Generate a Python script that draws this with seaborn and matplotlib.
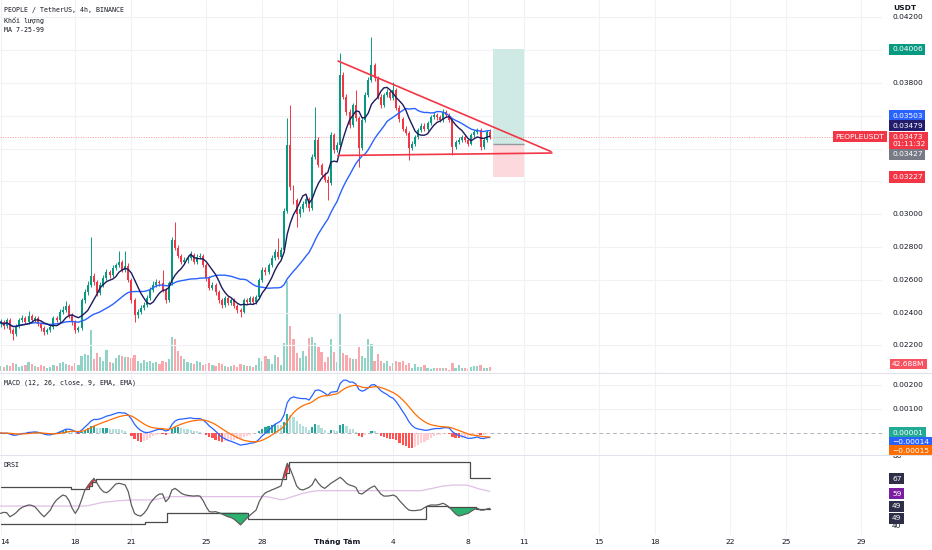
"""PEOPLE / TetherUS 4h chart (BINANCE) with volume, MA, MACD and DRSI panes."""

import numpy as np
import pandas as pd
import matplotlib
matplotlib.use("Agg")
import matplotlib.pyplot as plt
import matplotlib.transforms as mtransforms
from matplotlib.patches import Rectangle
from matplotlib.lines import Line2D
import seaborn as sns

# ---------------------------------------------------------------------------
# data: 4h candles, bar 0 = 14 Jul 00:00
# ---------------------------------------------------------------------------
first_open = 0.02330
close = [
    0.02342, 0.02318, 0.02354, 0.02293, 0.02269, 0.02318, 0.02354, 0.02366, 0.02342, 0.02379,
    0.02354, 0.02366, 0.02330, 0.02306, 0.02281, 0.02293, 0.02312, 0.02366, 0.02354, 0.02403,
    0.02415, 0.02440, 0.02385, 0.02342, 0.02293, 0.02306, 0.02476, 0.02525, 0.02568, 0.02623,
    0.02586, 0.02519, 0.02568, 0.02610, 0.02647, 0.02629, 0.02672, 0.02690, 0.02708, 0.02659,
    0.02684, 0.02598, 0.02476, 0.02385, 0.02403, 0.02427, 0.02446, 0.02488, 0.02537, 0.02568,
    0.02586, 0.02580, 0.02537, 0.02476, 0.02580, 0.02842, 0.02794, 0.02745, 0.02708, 0.02720,
    0.02733, 0.02751, 0.02708, 0.02739, 0.02745, 0.02690, 0.02610, 0.02550, 0.02568, 0.02525,
    0.02476, 0.02446, 0.02488, 0.02458, 0.02476, 0.02440, 0.02415, 0.02403, 0.02476, 0.02464,
    0.02488, 0.02464, 0.02495, 0.02598, 0.02659, 0.02647, 0.02690, 0.02733, 0.02770, 0.02740,
    0.02781, 0.03020, 0.03422, 0.03166, 0.03086, 0.03000, 0.03030, 0.03060, 0.03090, 0.03037,
    0.03350, 0.03452, 0.03300, 0.03239, 0.03210, 0.03190, 0.03483, 0.03391, 0.03420, 0.03849,
    0.03715, 0.03623, 0.03544, 0.03666, 0.03586, 0.03404, 0.03574, 0.03727, 0.03818, 0.03910,
    0.03830, 0.03715, 0.03666, 0.03727, 0.03745, 0.03710, 0.03757, 0.03650, 0.03580, 0.03520,
    0.03495, 0.03404, 0.03430, 0.03470, 0.03513, 0.03540, 0.03520, 0.03555, 0.03590, 0.03605,
    0.03590, 0.03575, 0.03623, 0.03605, 0.03574, 0.03410, 0.03440, 0.03455, 0.03470, 0.03450,
    0.03430, 0.03480, 0.03500, 0.03513, 0.03410, 0.03450, 0.03501, 0.03473,
]
high = [
    0.02360, 0.02357, 0.02370, 0.02365, 0.02305, 0.02330, 0.02368, 0.02385, 0.02378, 0.02409,
    0.02390, 0.02380, 0.02378, 0.02342, 0.02318, 0.02305, 0.02325, 0.02380, 0.02378, 0.02420,
    0.02440, 0.02470, 0.02452, 0.02395, 0.02355, 0.02320, 0.02490, 0.02545, 0.02590, 0.02861,
    0.02640, 0.02600, 0.02585, 0.02630, 0.02665, 0.02662, 0.02690, 0.02705, 0.02775, 0.02720,
    0.02775, 0.02700, 0.02610, 0.02490, 0.02420, 0.02445, 0.02465, 0.02505, 0.02555, 0.02590,
    0.02605, 0.02600, 0.02659, 0.02550, 0.02595, 0.02860, 0.02952, 0.02810, 0.02760, 0.02740,
    0.02750, 0.02775, 0.02765, 0.02755, 0.02765, 0.02758, 0.02700, 0.02622, 0.02585, 0.02580,
    0.02538, 0.02490, 0.02500, 0.02500, 0.02490, 0.02488, 0.02452, 0.02428, 0.02490, 0.02488,
    0.02500, 0.02500, 0.02508, 0.02612, 0.02680, 0.02675, 0.02705, 0.02750, 0.02785, 0.02855,
    0.02800, 0.03040, 0.03586, 0.03666, 0.03180, 0.03100, 0.03050, 0.03080, 0.03110, 0.03105,
    0.03370, 0.03654, 0.03468, 0.03315, 0.03255, 0.03230, 0.03500, 0.03498, 0.03440, 0.03983,
    0.03865, 0.03730, 0.03640, 0.03680, 0.03757, 0.03600, 0.03590, 0.03745, 0.03835, 0.04081,
    0.03925, 0.03845, 0.03730, 0.03742, 0.03762, 0.03760, 0.03806, 0.03770, 0.03665, 0.03595,
    0.03535, 0.03510, 0.03448, 0.03485, 0.03528, 0.03556, 0.03556, 0.03570, 0.03605, 0.03622,
    0.03620, 0.03605, 0.03640, 0.03638, 0.03618, 0.03588, 0.03455, 0.03470, 0.03485, 0.03482,
    0.03462, 0.03495, 0.03515, 0.03528, 0.03525, 0.03465, 0.03515, 0.03520,
]
low = [
    0.02310, 0.02300, 0.02305, 0.02278, 0.02232, 0.02255, 0.02305, 0.02340, 0.02330, 0.02330,
    0.02340, 0.02342, 0.02318, 0.02290, 0.02262, 0.02268, 0.02280, 0.02300, 0.02340, 0.02345,
    0.02390, 0.02405, 0.02370, 0.02325, 0.02278, 0.02280, 0.02295, 0.02460, 0.02510, 0.02555,
    0.02570, 0.02500, 0.02505, 0.02555, 0.02598, 0.02612, 0.02615, 0.02660, 0.02675, 0.02645,
    0.02645, 0.02585, 0.02460, 0.02342, 0.02370, 0.02390, 0.02415, 0.02435, 0.02475, 0.02525,
    0.02555, 0.02565, 0.02525, 0.02460, 0.02465, 0.02570, 0.02780, 0.02730, 0.02695, 0.02695,
    0.02705, 0.02720, 0.02695, 0.02695, 0.02725, 0.02675, 0.02595, 0.02535, 0.02538, 0.02510,
    0.02460, 0.02430, 0.02435, 0.02445, 0.02445, 0.02425, 0.02400, 0.02373, 0.02395, 0.02450,
    0.02452, 0.02450, 0.02452, 0.02485, 0.02585, 0.02632, 0.02635, 0.02675, 0.02720, 0.02725,
    0.02728, 0.02770, 0.03005, 0.03150, 0.03065, 0.02922, 0.02980, 0.03015, 0.03045, 0.03020,
    0.03025, 0.03335, 0.03285, 0.03220, 0.03195, 0.03086, 0.03178, 0.03375, 0.03378, 0.03405,
    0.03700, 0.03605, 0.03525, 0.03530, 0.03570, 0.03288, 0.03390, 0.03560, 0.03712, 0.03805,
    0.03815, 0.03700, 0.03650, 0.03652, 0.03712, 0.03695, 0.03698, 0.03635, 0.03565, 0.03505,
    0.03480, 0.03330, 0.03390, 0.03418, 0.03458, 0.03500, 0.03505, 0.03508, 0.03542, 0.03578,
    0.03576, 0.03560, 0.03562, 0.03592, 0.03560, 0.03361, 0.03398, 0.03428, 0.03442, 0.03438,
    0.03418, 0.03420, 0.03468, 0.03488, 0.03391, 0.03398, 0.03440, 0.03460,
]
# volume in millions of PEOPLE
volume_m = [
    54, 43, 64, 54, 86, 75, 43, 54, 64, 96,
    75, 54, 43, 64, 54, 32, 43, 64, 54, 86,
    96, 75, 64, 54, 86, 64, 161, 182, 171, 439,
    128, 193, 150, 107, 225, 96, 86, 139, 171, 161,
    150, 150, 139, 171, 107, 86, 118, 96, 107, 86,
    96, 75, 107, 96, 128, 364, 342, 214, 161, 128,
    96, 86, 75, 107, 96, 64, 75, 86, 64, 54,
    86, 75, 54, 43, 54, 64, 43, 75, 64, 54,
    54, 43, 64, 139, 107, 161, 128, 75, 171, 150,
    64, 300, 974, 482, 342, 193, 139, 214, 161, 353,
    364, 300, 257, 203, 96, 150, 342, 203, 96, 621,
    193, 171, 139, 128, 128, 257, 161, 139, 342, 289,
    107, 182, 107, 86, 107, 54, 86, 107, 96, 107,
    64, 86, 32, 75, 43, 43, 64, 32, 21, 32,
    32, 32, 32, 32, 11, 86, 32, 64, 32, 32,
    21, 43, 54, 54, 64, 32, 32, 42.688,
]

# DRSI pane values read per bar
drsi = [
    47.2, 47.8, 47.6, 45.3, 46.3, 47.6, 49.5, 50.7, 51.4, 52.0,
    51.8, 51.0, 49.1, 46.9, 45.3, 47.2, 49.1, 52.6, 54.9, 56.4,
    57.7, 57.1, 54.5, 50.1, 47.2, 50.1, 54.9, 60.2, 62.9, 65.3,
    67.2, 64.4, 61.5, 59.6, 59.0, 60.2, 62.1, 64.0, 64.4, 64.0,
    63.4, 59.6, 52.0, 47.2, 46.1, 45.7, 47.2, 49.5, 53.0, 55.2,
    57.1, 58.3, 58.3, 53.9, 55.8, 60.6, 61.5, 60.2, 58.7, 57.9,
    57.5, 57.3, 57.1, 57.3, 57.1, 54.5, 51.0, 48.2, 48.0, 48.2,
    47.6, 46.9, 46.1, 45.3, 44.8, 43.8, 42.3, 40.6, 42.5, 44.4,
    46.1, 47.6, 49.1, 53.9, 57.1, 59.0, 59.8, 60.6, 61.3, 62.1,
    62.9, 70.1, 75.8, 72.4, 67.8, 62.9, 61.0, 60.6, 61.3, 62.1,
    63.6, 67.0, 64.4, 62.5, 61.5, 62.9, 64.4, 65.5, 66.7, 67.8,
    66.3, 64.4, 63.4, 62.9, 62.1, 58.7, 58.3, 59.6, 61.0, 62.1,
    62.9, 60.6, 58.3, 57.1, 57.1, 57.3, 57.7, 56.8, 54.5, 52.6,
    50.7, 49.1, 48.8, 48.8, 49.0, 49.3, 50.5, 51.4, 52.0, 52.0,
    52.0, 52.4, 53.0, 52.0, 50.7, 48.8, 46.9, 45.7, 46.1, 46.7,
    47.2, 48.4, 49.5, 50.1, 49.1, 49.1, 49.7, 50.1,
]
# band levels: flat steps in the chart
drsi_upper = ([62.1] * 23 + [61.3] * 6 + [62.9, 65.3] + [66.9] * 61 + [70.1]
              + [76.4] * 58 + [67.2] * 7)
drsi_lower = ([41.0] * 47 + [42.3] * 7 + [47.6] * 26 + [44.1] * 57 + [51.4] * 7
              + [50.7] * 9 + [49.5] * 5)
drsi_ma = ([51.4] * 28
           + [51.6, 52.0, 52.4, 52.8, 53.2, 53.6, 53.7, 53.9, 54.1, 54.3, 54.5, 54.5, 54.7, 54.7, 54.9]
           + [54.9] * 7 + [55.2, 55.6, 56.0, 56.4, 56.6] + [56.8] * 31
           + [56.6, 56.2, 55.8, 55.4, 55.0, 55.2, 55.8, 56.4, 57.0, 57.5, 58.1, 58.7, 59.0, 59.4,
              59.8, 60.0]
           + [60.2] * 34 + [60.6, 61.0, 61.3, 61.7, 62.1, 62.5, 62.9, 63.0, 63.2] + [63.4] * 5
           + [63.2, 62.7, 62.1, 61.5, 61.0, 60.6, 60.2, 59.8])
assert len(close) == len(high) == len(low) == len(volume_m) == len(drsi)
assert len(drsi) == len(drsi_upper) == len(drsi_lower) == len(drsi_ma)

day_ticks = [0, 24, 42, 66, 84, 108, 126, 150, 168, 192, 210, 234, 252, 276]
day_labels = ["14", "18", "21", "25", "28", "Tháng Tám", "4", "8", "11",
              "15", "18", "22", "25", "29"]
price_grid = [0.022, 0.024, 0.026, 0.028, 0.030, 0.032, 0.034, 0.036, 0.038, 0.040, 0.042]
price_ticks = [0.022, 0.024, 0.026, 0.028, 0.030, 0.038, 0.042]
macd_ticks = [0.001, 0.002]
rsi_ticks = [40, 80]

# drawings: triangle (bar, price) and long position tool
tri_upper_bars, tri_upper_prices = [108.3, 176.6], [0.03934, 0.03382]
tri_lower_bars, tri_lower_prices = [108.3, 176.9], [0.03358, 0.03373]
pos_start, pos_end = 158, 168
pos_target, pos_entry, pos_stop = 0.04006, 0.03427, 0.03227
last_price = 0.03473

# right scale tags: (text, value, colour, extra shift down in px)
main_tags = [
    ("0.04006", 0.04006, "#089981", 0),
    ("0.03503", 0.03503, "#2962ff", -16),
    ("0.03479", 0.03479, "#221c6b", -10),
    ("0.03473\n01:11:32", 0.03473, "#f23645", 4),
    ("0.03427", 0.03427, "#787b86", 10),
    ("0.03227", 0.03227, "#f23645", 0),
]
macd_tags = [
    ("0.00001", 0.00001, "#22ab94", 0),
    ("\u22120.00014", -0.00014, "#2962ff", 6),
    ("\u22120.00015", -0.00015, "#ff6d00", 14),
]
rsi_tags = [
    ("67", 67, "#2e2e48", 0),
    ("59", 59, "#7b1fa2", 1),
    ("49", 49, "#2e2e48", -4),
    ("49", 49, "#2e2e48", 8),
]

# ---------------------------------------------------------------------------
# indicators built from the candles
# ---------------------------------------------------------------------------
c = pd.Series(close)
o = c.shift(1).fillna(first_open)
idx = np.arange(len(c))
ma7 = c.rolling(7, min_periods=1).mean()
ma25 = c.rolling(25, min_periods=1).mean()
macd = c.ewm(span=12, adjust=False).mean() - c.ewm(span=26, adjust=False).mean()
signal = macd.ewm(span=9, adjust=False).mean()
hist = macd - signal
rsi = np.array(drsi)
upper = np.array(drsi_upper)
lower = np.array(drsi_lower)

# ---------------------------------------------------------------------------
# layout (pixel based, 932 x 550)
# ---------------------------------------------------------------------------
W, H = 932, 550
BAR_PX = 3.117
EDGE = (882 - 0.5) / BAR_PX  # right end of the plotting area in bars
UP, DOWN = "#089981", "#f23645"
GRID = "#f0f2f6"
TXT = "#131722"


def px2bar(px):
    return (px - 0.5) / BAR_PX


sns.set_theme(style="white")
plt.rcParams["font.family"] = ["DejaVu Sans"]

fig = plt.figure(figsize=(W / 100, H / 100), dpi=100)
fig.patch.set_facecolor("white")


def pane(top, bottom, ylim):
    a = fig.add_axes([0, 1 - bottom / H, 1, (bottom - top) / H])
    a.set_xlim(px2bar(0), px2bar(W))
    a.set_ylim(*ylim)
    a.set_axis_off()
    for t in day_ticks:
        a.axvline(t, color=GRID, lw=0.8, zorder=0)
    return a


ax = pane(0, 373, (0.020317, 0.043061))
ax_macd = pane(373, 455, (-0.000917, 0.0025))
ax_rsi = pane(455, 535, (34.86, 80.57))

# volume on a twin axis behind the candles
ax_vol = ax.twinx()
ax_vol.set_ylim(-21, 3970)
ax_vol.set_axis_off()
ax.set_zorder(ax_vol.get_zorder() + 1)
ax.patch.set_visible(False)
up = (c >= o).to_numpy()
ax_vol.bar(idx, volume_m, width=0.7,
           color=np.where(up, "#92d3c8", "#f9a9ad"), linewidth=0)

for p in price_grid:
    ax.hlines(p, px2bar(0), EDGE, color=GRID, lw=0.8, zorder=0)

# candles
col = np.where(up, UP, DOWN)
ax.vlines(idx, low, high, colors=col, lw=0.7, zorder=3)
body_lo = np.minimum(o, c)
body_h = np.maximum(np.abs(c - o), 0.00002)
ax.bar(idx, body_h, bottom=body_lo, width=0.64, color=col, linewidth=0, zorder=4)

sns.lineplot(x=idx, y=ma25, ax=ax, color="#2962ff", lw=1.0, zorder=5)
sns.lineplot(x=idx, y=ma7, ax=ax, color="#1c1a5e", lw=1.0, zorder=6)

ax.hlines(last_price, px2bar(0), EDGE, color=DOWN, lw=0.7, ls=(0, (1, 1.5)), alpha=0.5, zorder=2)

# long position tool
ax.add_patch(Rectangle((pos_start, pos_entry), pos_end - pos_start, pos_target - pos_entry,
                       fc="#cfeae5", ec="none", zorder=1))
ax.add_patch(Rectangle((pos_start, pos_stop), pos_end - pos_start, pos_entry - pos_stop,
                       fc="#fbd9dc", ec="none", zorder=1))
ax.hlines(pos_entry, pos_start, pos_end, color="#9598a1", lw=1.0, zorder=2)

# triangle
ax.plot(tri_upper_bars, tri_upper_prices, color=DOWN, lw=1.2, zorder=7)
ax.plot(tri_lower_bars, tri_lower_prices, color=DOWN, lw=1.2, zorder=7)

# MACD pane
for v in macd_ticks:
    ax_macd.hlines(v, px2bar(0), EDGE, color=GRID, lw=0.8, zorder=0)
ax_macd.hlines(0, px2bar(0), EDGE, color="#b2b5be", lw=0.7, ls=(0, (4, 3)), zorder=1)
prev = hist.shift(1).fillna(0)
hcol = np.where(hist >= 0,
                np.where(hist > prev, "#26a69a", "#b2dfdb"),
                np.where(hist < prev, "#ff5252", "#ffcdd2"))
ax_macd.bar(idx, hist, width=0.7, color=hcol, linewidth=0, zorder=2)
sns.lineplot(x=idx, y=macd, ax=ax_macd, color="#2962ff", lw=0.9, zorder=3)
sns.lineplot(x=idx, y=signal, ax=ax_macd, color="#ff6d00", lw=0.9, zorder=3)

# DRSI pane
ax_rsi.fill_between(idx, rsi, upper, where=(rsi > upper), interpolate=True,
                    color="#f23645", lw=0, zorder=2)
ax_rsi.fill_between(idx, rsi, lower, where=(rsi < lower), interpolate=True,
                    color="#2db370", lw=0, zorder=2)
sns.lineplot(x=idx, y=drsi_ma, ax=ax_rsi, color="#e1bee7", lw=0.9, zorder=3)
ax_rsi.step(idx, upper, where="mid", color="#4a4a4a", lw=0.9, zorder=4)
ax_rsi.step(idx, lower, where="mid", color="#4a4a4a", lw=0.9, zorder=4)
sns.lineplot(x=idx, y=rsi, ax=ax_rsi, color="#5d5d5d", lw=0.9, zorder=5)

for a in (ax, ax_macd, ax_rsi):
    a.set_axis_off()

# pane separators
for ypx in (373, 455):
    fig.add_artist(Line2D([0, 1], [1 - ypx / H] * 2, color="#e0e3eb", lw=0.8))

# ---------------------------------------------------------------------------
# texts
# ---------------------------------------------------------------------------
FS = 5.4
LBL_X = px2bar(892)


def scale_text(a, value, text):
    a.text(LBL_X, value, text, ha="left", va="center", fontsize=FS, color=TXT,
           clip_on=True, zorder=10)


def tag(a, value, text, bg, shift=0):
    tr = mtransforms.offset_copy(a.transData, fig=fig, x=0, y=-shift, units="dots")
    a.text(LBL_X, value, text, transform=tr, ha="left", va="center", fontsize=FS,
           color="white", linespacing=1.15, clip_on=True, zorder=11,
           bbox=dict(boxstyle="square,pad=0.35", fc=bg, ec="none"))


for p in price_ticks:
    scale_text(ax, p, f"{p:.5f}")
for text, v, bg, s in main_tags:
    tag(ax, v, text, bg, s)
ax.text(px2bar(884), last_price, "PEOPLEUSDT", ha="right", va="center", fontsize=FS,
        color="white", zorder=11,
        bbox=dict(boxstyle="square,pad=0.35", fc=DOWN, ec="none"))
ax_vol.text(LBL_X, volume_m[-1], "42.688M", ha="left", va="bottom", fontsize=FS,
            color="white", zorder=11,
            bbox=dict(boxstyle="square,pad=0.3", fc="#f7525f", ec="none"))

for v in macd_ticks:
    scale_text(ax_macd, v, f"{v:.5f}")
for text, v, bg, s in macd_tags:
    tag(ax_macd, v, text, bg, s)

for v in rsi_ticks:
    scale_text(ax_rsi, v, f"{v}")
for text, v, bg, s in rsi_tags:
    tag(ax_rsi, v, text, bg, s)

# scale header
fig.add_artist(Rectangle((884 / W, 1 - 14 / H), 48 / W, 14 / H, transform=fig.transFigure,
                         fc="white", ec="none", zorder=20))
fig.text(893 / W, 1 - 8 / H, "USDT", fontsize=FS, color=TXT, fontweight="bold",
         va="center", zorder=21)

# legends
MONO = ["DejaVu Sans Mono", "Noto Sans", "DejaVu Sans"]
for ypx, s in [(10, "PEOPLE / TetherUS, 4h, BINANCE"), (20, "Khối lượng"), (30, "MA 7-25-99")]:
    fig.text(4 / W, 1 - ypx / H, s, fontsize=4.8, family=MONO, color=TXT, va="center")
fig.text(4 / W, 1 - 383 / H, "MACD (12, 26, close, 9, EMA, EMA)", fontsize=4.8,
         family=MONO, color=TXT, va="center")
fig.text(4 / W, 1 - 465 / H, "DRSI", fontsize=4.8, family=MONO, color=TXT, va="center")

# time axis
for t, lab in zip(day_ticks, day_labels):
    first = t == day_ticks[0]
    ax_rsi.text(px2bar(0.5) if first else t, -0.09, lab,
                transform=ax_rsi.get_xaxis_transform(),
                ha="left" if first else "center", va="center", fontsize=FS, color=TXT,
                clip_on=False, fontweight="bold" if lab == "Tháng Tám" else "normal")

fig.savefig("out.png", dpi=100, facecolor="white")
